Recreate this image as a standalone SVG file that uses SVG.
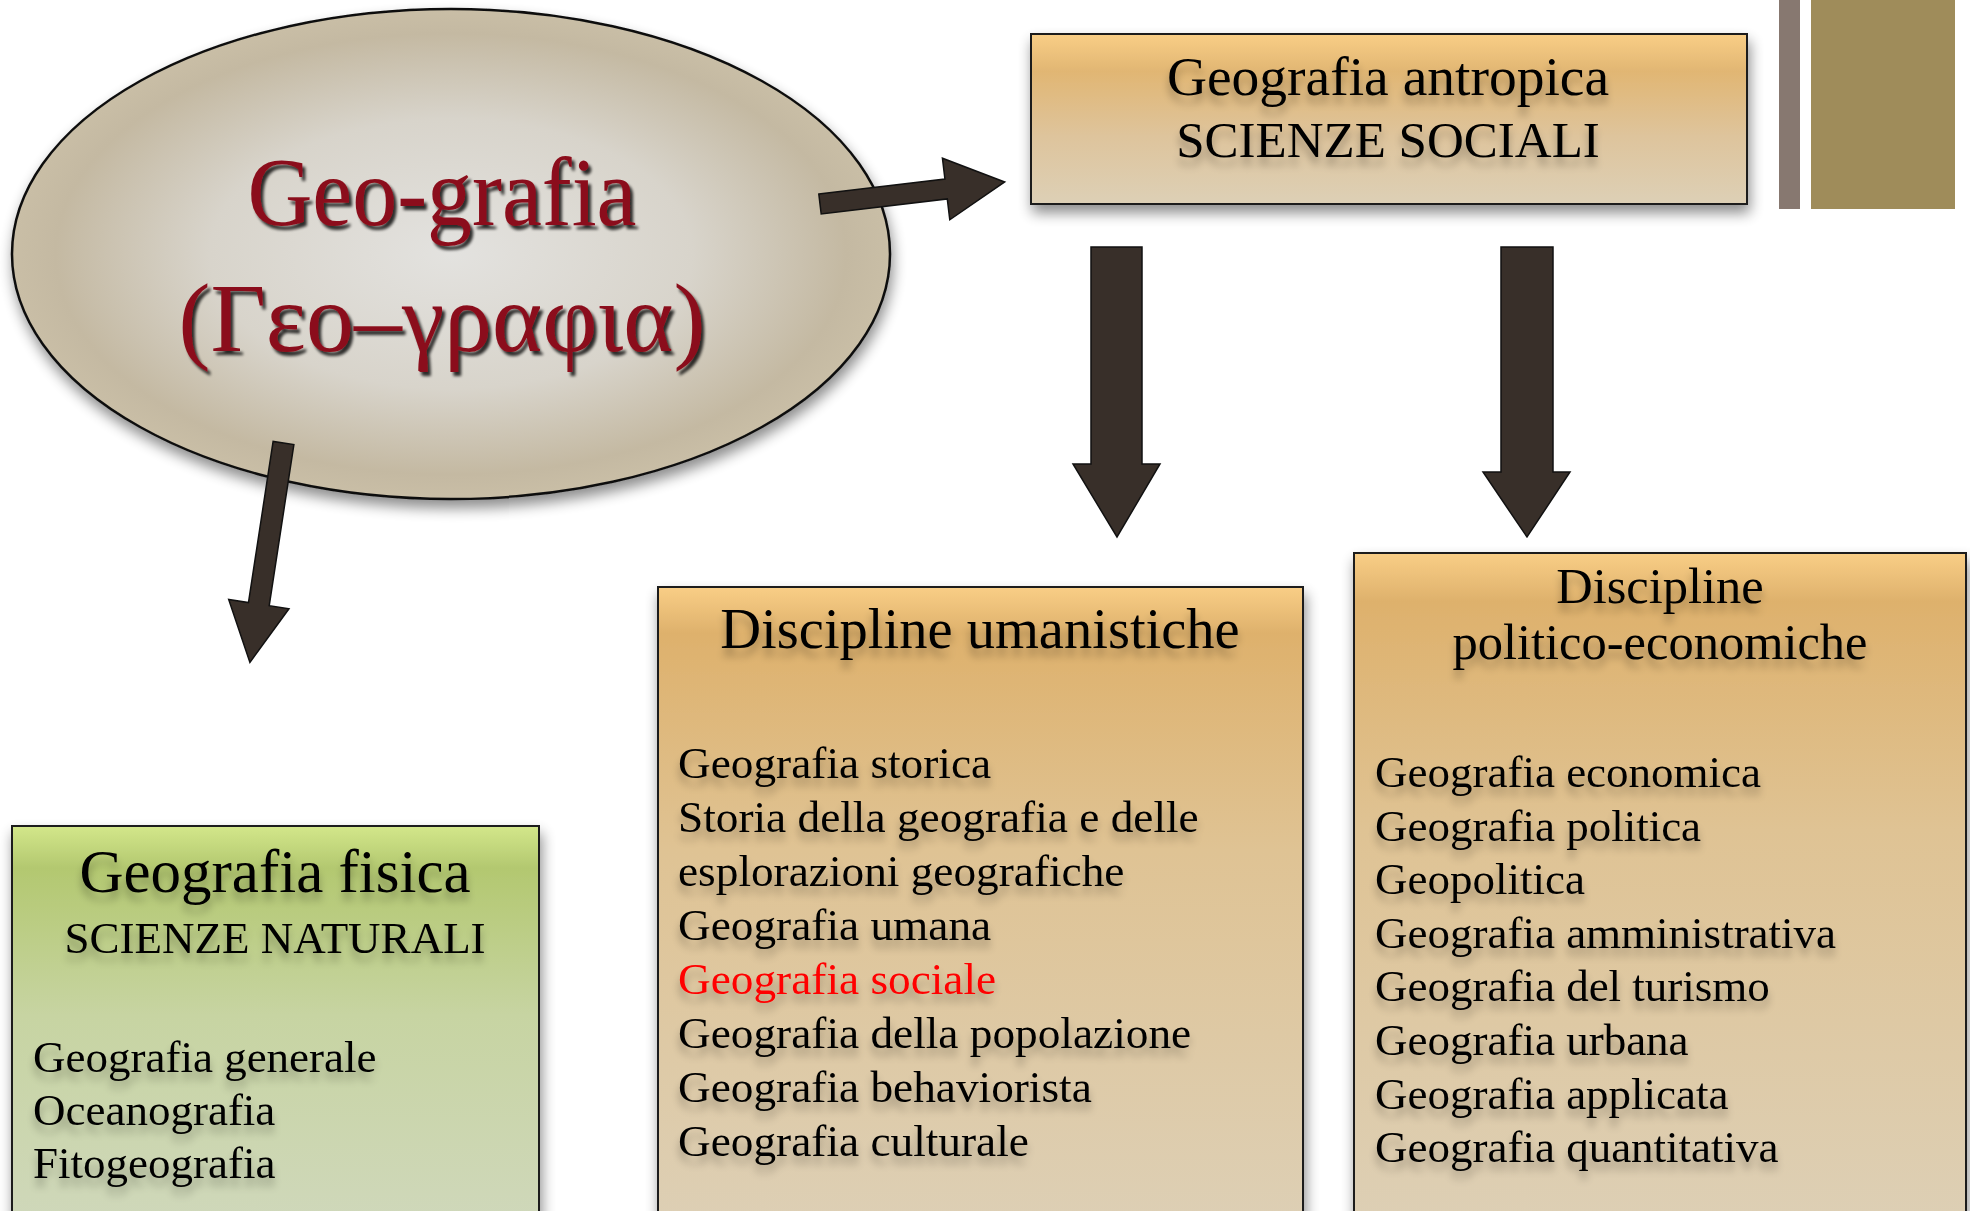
<svg xmlns="http://www.w3.org/2000/svg" width="1970" height="1211" viewBox="0 0 1970 1211">
  <style>
    .title { font-family: "Liberation Serif", "DejaVu Serif", serif; fill: #8b0d1a; font-size: 98px; text-anchor: middle; }
    .box { stroke: #1a1a1a; stroke-width: 2; }
    .hdr { font-family: "Liberation Serif", "DejaVu Serif", serif; fill: #000; text-anchor: middle; }
    .item { font-family: "Liberation Serif", "DejaVu Serif", serif; fill: #000; }
    .item.red { fill: #ff0000; }
    .arrow { fill: #382f29; stroke: #111; stroke-width: 1.5; }
  </style>
  <defs>
    <radialGradient id="gEllipse" cx="0.5" cy="0.5" r="0.5">
      <stop offset="0" stop-color="#e3e2df"/>
      <stop offset="0.55" stop-color="#d8d4cb"/>
      <stop offset="0.9" stop-color="#c4b9a2"/>
      <stop offset="1" stop-color="#c9bea6"/>
    </radialGradient>
    <linearGradient id="gTop" x1="0" y1="0" x2="0" y2="1">
      <stop offset="0" stop-color="#f9ce86"/>
      <stop offset="0.22" stop-color="#e1b673"/>
      <stop offset="0.6" stop-color="#dec49c"/>
      <stop offset="1" stop-color="#ddd0b6"/>
    </linearGradient>
    <linearGradient id="gTall" x1="0" y1="0" x2="0" y2="1">
      <stop offset="0" stop-color="#f9ce86"/>
      <stop offset="0.07" stop-color="#deb16c"/>
      <stop offset="0.4" stop-color="#dfc394"/>
      <stop offset="1" stop-color="#ddd0b7"/>
    </linearGradient>
    <linearGradient id="gGreen" x1="0" y1="0" x2="0" y2="1">
      <stop offset="0" stop-color="#d3e78a"/>
      <stop offset="0.1" stop-color="#b3c870"/>
      <stop offset="0.45" stop-color="#c7d4a2"/>
      <stop offset="1" stop-color="#d0d8bd"/>
    </linearGradient>
    <filter id="fBox" x="-10%" y="-10%" width="125%" height="130%">
      <feGaussianBlur in="SourceAlpha" stdDeviation="7"/>
      <feOffset dx="2" dy="8" result="b"/>
      <feComponentTransfer><feFuncA type="linear" slope="0.45"/></feComponentTransfer>
      <feMerge><feMergeNode/><feMergeNode in="SourceGraphic"/></feMerge>
    </filter>
    <filter id="fText" x="-10%" y="-30%" width="120%" height="180%">
      <feGaussianBlur in="SourceAlpha" stdDeviation="4"/>
      <feOffset dx="0" dy="8"/>
      <feComponentTransfer><feFuncA type="linear" slope="0.3"/></feComponentTransfer>
      <feMerge><feMergeNode/><feMergeNode in="SourceGraphic"/></feMerge>
    </filter>
    <filter id="fTitle" x="-10%" y="-20%" width="120%" height="150%">
      <feGaussianBlur in="SourceAlpha" stdDeviation="1.5"/>
      <feOffset dx="3" dy="4"/>
      <feComponentTransfer><feFuncA type="linear" slope="0.8"/></feComponentTransfer>
      <feMerge><feMergeNode/><feMergeNode in="SourceGraphic"/></feMerge>
    </filter>
  </defs>

  <rect x="0" y="0" width="1970" height="1211" fill="#ffffff"/>

  <g id="decor">
    <rect x="1779" y="0" width="21" height="209" fill="#877870"/>
    <rect x="1811" y="0" width="144" height="209" fill="#9f8c5a"/>
  </g>

  <g id="node-geografia">
    <ellipse cx="451" cy="254" rx="439" ry="245" fill="url(#gEllipse)" stroke="#111" stroke-width="2.5" filter="url(#fBox)"/>
    <g filter="url(#fTitle)">
      <text class="title" x="442" y="225" textLength="389" lengthAdjust="spacingAndGlyphs">Geo-grafia</text>
      <text class="title" x="442" y="351" textLength="527" lengthAdjust="spacingAndGlyphs">(Γεο–γραφια)</text>
    </g>
  </g>

  <g id="node-antropica">
    <rect class="box" x="1031" y="34" width="716" height="170" fill="url(#gTop)" filter="url(#fBox)"/>
    <g filter="url(#fText)">
      <text class="hdr" x="1388" y="95" font-size="55.5">Geografia antropica</text>
      <text class="hdr" x="1388" y="157" font-size="51">SCIENZE SOCIALI</text>
    </g>
  </g>

  <g id="node-fisica">
    <rect class="box" x="12" y="826" width="527" height="420" fill="url(#gGreen)" filter="url(#fBox)"/>
    <g filter="url(#fText)">
      <text class="hdr" x="275" y="892" font-size="61">Geografia fisica</text>
      <text class="hdr" x="275" y="953" font-size="45">SCIENZE NATURALI</text>
      <text class="item" x="33" y="1072" font-size="45">Geografia generale</text>
      <text class="item" x="33" y="1125" font-size="45">Oceanografia</text>
      <text class="item" x="33" y="1178" font-size="45">Fitogeografia</text>
    </g>
  </g>

  <g id="node-umanistiche">
    <rect class="box" x="658" y="587" width="645" height="660" fill="url(#gTall)" filter="url(#fBox)"/>
    <g filter="url(#fText)">
      <text class="hdr" x="980" y="648" font-size="56.5">Discipline umanistiche</text>
      <text class="item" x="678" y="778" font-size="45.3">Geografia storica</text>
      <text class="item" x="678" y="832" font-size="45.3">Storia della geografia e delle</text>
      <text class="item" x="678" y="886" font-size="45.3">esplorazioni geografiche</text>
      <text class="item" x="678" y="940" font-size="45.3">Geografia umana</text>
      <text class="item red" x="678" y="994" font-size="45.3">Geografia sociale</text>
      <text class="item" x="678" y="1048" font-size="45.3">Geografia della popolazione</text>
      <text class="item" x="678" y="1102" font-size="45.3">Geografia behaviorista</text>
      <text class="item" x="678" y="1156" font-size="45.3">Geografia culturale</text>
    </g>
  </g>

  <g id="node-politico">
    <rect class="box" x="1354" y="553" width="612" height="694" fill="url(#gTall)" filter="url(#fBox)"/>
    <g filter="url(#fText)">
      <text class="hdr" x="1660" y="603" font-size="50.5">Discipline</text>
      <text class="hdr" x="1660" y="659" font-size="50.5">politico-economiche</text>
      <text class="item" x="1375" y="787" font-size="45">Geografia economica</text>
      <text class="item" x="1375" y="841" font-size="45">Geografia politica</text>
      <text class="item" x="1375" y="894" font-size="45">Geopolitica</text>
      <text class="item" x="1375" y="948" font-size="45">Geografia amministrativa</text>
      <text class="item" x="1375" y="1001" font-size="45">Geografia del turismo</text>
      <text class="item" x="1375" y="1055" font-size="45">Geografia urbana</text>
      <text class="item" x="1375" y="1109" font-size="45">Geografia applicata</text>
      <text class="item" x="1375" y="1162" font-size="45">Geografia quantitativa</text>
    </g>
  </g>

  <g id="connectors">
    <path class="arrow" transform="translate(820,204) rotate(-6.8)" d="M0,-10 L127,-10 L127,-31 L186,0 L127,31 L127,10 L0,10 Z"/>
    <path class="arrow" transform="translate(283.5,443) rotate(98.7)" d="M0,-10.5 L163,-10.5 L163,-30.5 L222,0 L163,30.5 L163,10.5 L0,10.5 Z"/>
    <path class="arrow" d="M1091,247 L1142,247 L1142,464 L1160,464 L1117,537 L1073,464 L1091,464 Z"/>
    <path class="arrow" d="M1501,247 L1553,247 L1553,472 L1570,472 L1527,537 L1483,472 L1501,472 Z"/>
  </g>
</svg>
